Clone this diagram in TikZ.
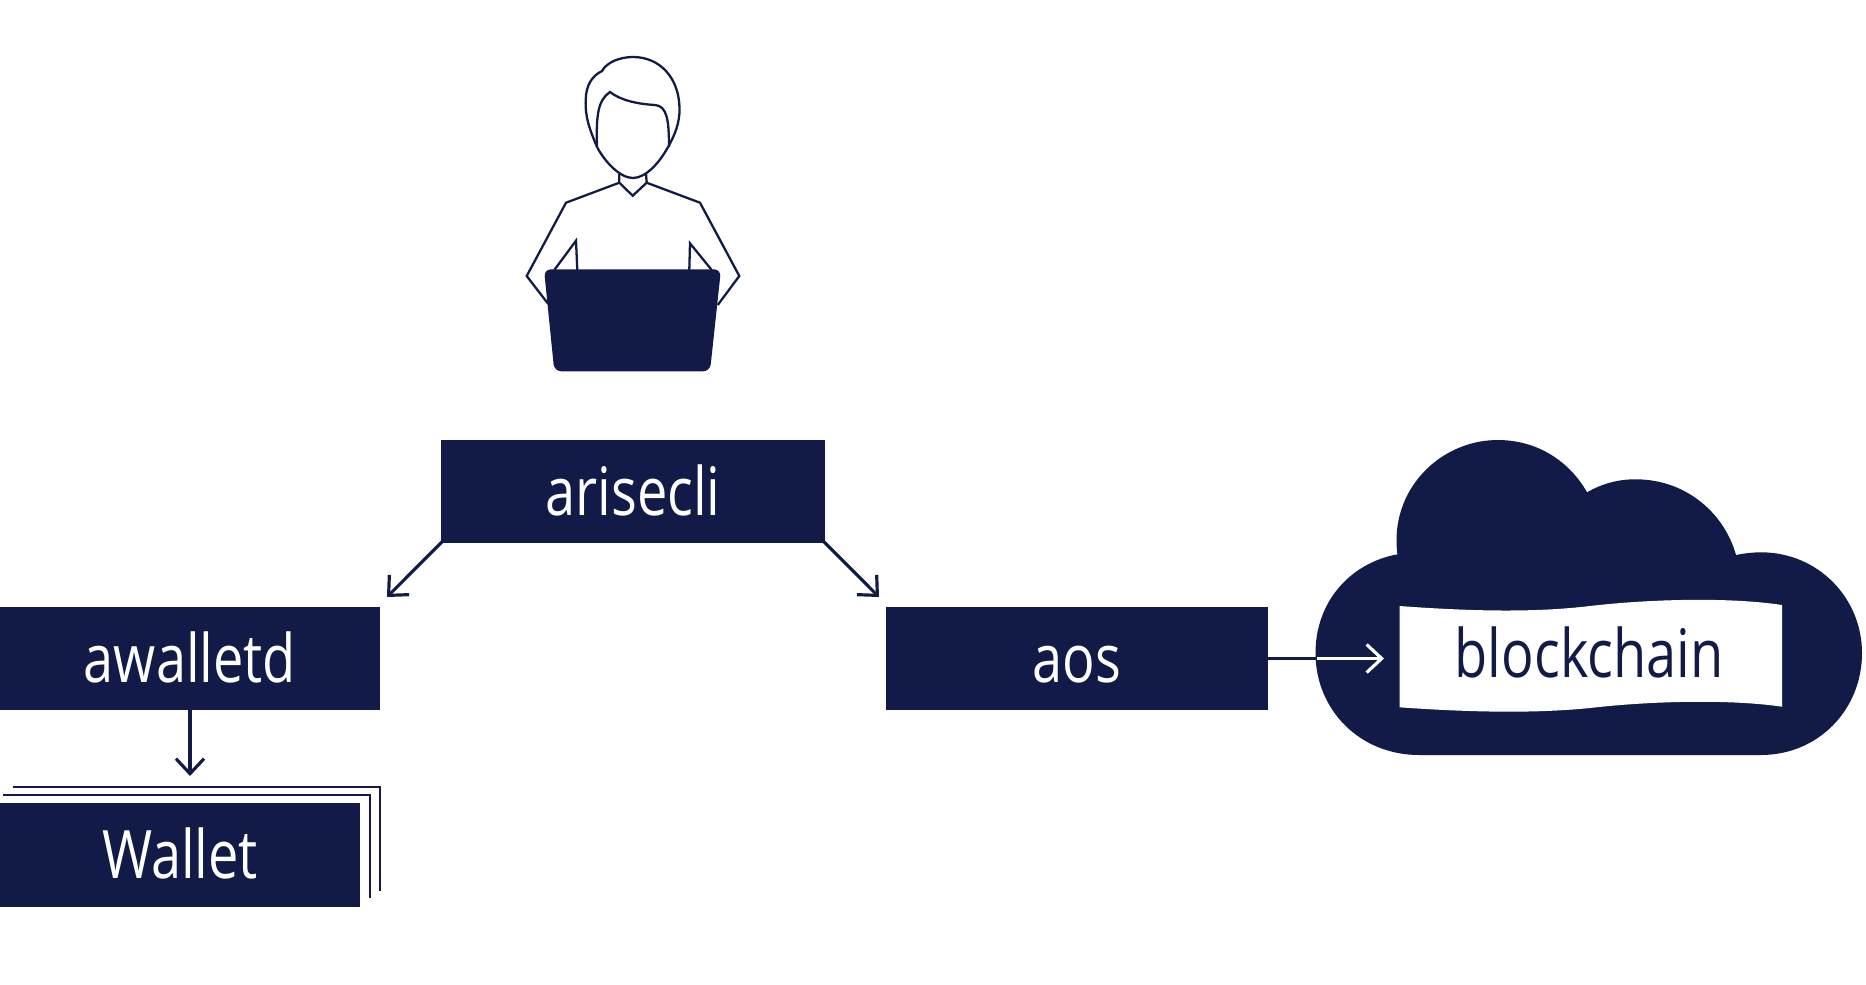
\documentclass[tikz,border=0pt]{standalone}
\usepackage{fontspec}
\setmainfont[FakeStretch=0.81]{Open Sans}
\definecolor{DeepNavy}{HTML}{121B47}
\usetikzlibrary{arrows.meta, positioning}
\tikzset{
  % Box styles
  toolbox/.style={rectangle, draw=none, fill=DeepNavy, text=white, inner sep=0pt, minimum width=3.82cm, minimum height=1.03cm, font=\fontsize{19}{23}\selectfont, text height=0.47cm, text depth=0pt, align=center},
  % Arrow styles
  arrow/.style={-{Straight Barb[length=1.5mm, width=2.8mm]}, line width=0.9pt, DeepNavy, shorten <=-1pt},
  whitearrow/.style={-{Straight Barb[length=1.5mm, width=2.8mm]}, line width=0.9pt, white},
  % Line styles
  outline/.style={line width=0.65pt, DeepNavy, line join=miter},
  stackline/.style={line width=0.65pt, DeepNavy}
}
\begin{document}
\begin{tikzpicture}[x=0.01cm, y=-0.01cm]
  \useasboundingbox (0,0) rectangle (1866,984);

  % Person
  \draw[outline] (597,147) .. controls (590,130) and (585,118) .. (585.7,100) .. controls (586,85) and (592,76) .. (602,71)
    .. controls (607,62) and (620,57) .. (633,57) .. controls (660,57) and (679,78) .. (679.5,108) .. controls (680,122) and (675,135) .. (668,147);
  \draw[outline] (597,147) .. controls (605,162) and (620,178) .. (633,178) .. controls (646,178) and (660,162) .. (668,147);
  \draw[outline] (597,147) .. controls (596,115) and (598,100) .. (610,92) .. controls (620,100) and (637,104) .. (655,105) .. controls (667,106) and (669,120) .. (669,147);
  \draw[outline] (619.3,174) -- (619.3,182.7) -- (632.7,195.7) -- (646.7,182.7) -- (646,174);
  \draw[outline] (548.3,304) -- (526.7,276) -- (566,202.7) -- (619.3,182.7);
  \draw[outline] (717.7,305) -- (739.3,276) -- (700,202.7) -- (646.7,182.7);
  \draw[outline] (554.3,270) -- (576,240.7) -- (577.3,270);
  \draw[outline] (689.3,270) -- (690,243.3) -- (711.7,270);
  % Laptop
  \fill[DeepNavy, rounded corners=0.07cm] (544,269.3) -- (721,269.3) -- (710,371.3) -- (554.3,371.3) -- cycle;

  % Cloud
  \fill[DeepNavy] (1397.4,554.3) .. controls (1389,490) and (1440,440) .. (1497.8,440) .. controls (1538,440) and (1570,462) .. (1587,492.3)
    .. controls (1603,483) and (1620,479) .. (1637,479.3) .. controls (1688,480) and (1725,515) .. (1736,555)
    .. controls (1746,553) and (1754,552.3) .. (1761,552.3) .. controls (1818,552.3) and (1862,598) .. (1862,653)
    .. controls (1862,710) and (1818,755) .. (1761,755) -- (1419,755)
    .. controls (1360,755) and (1315.5,710) .. (1315.5,653) .. controls (1315.5,602) and (1350,563) .. (1397.4,554.3) -- cycle;
  \fill[white] (1399.5,606) .. controls (1480,612) and (1540,612) .. (1590,606) .. controls (1650,599) and (1730,597) .. (1782,605)
    -- (1782,706.7) .. controls (1730,699) and (1650,701) .. (1590,708) .. controls (1540,713) and (1480,713) .. (1399.5,707.3) -- cycle;
  \node[toolbox, fill=none, text=DeepNavy] (chain) at (1589,654) {blockchain};

  % Tool boxes
  \node[toolbox, minimum width=3.84cm] (cli) at (633,491.5) {arisecli};
  \node[toolbox, minimum width=3.8cm] (wallettool) at (190,658.5) {awalletd};
  \node[toolbox, right=5.04cm of wallettool] (aos) {aos};

  % Stacked wallets
  \draw[stackline] (13,786.7) -- (380,786.7) -- (380,890.7);
  \draw[stackline] (3,795) -- (370,795) -- (370,898);
  \node[toolbox, minimum width=3.6cm] (walletfile) at (180,855) {Wallet};

  % Connectors
  \coordinate (lefttip) at (387,597);
  \coordinate (righttip) at (879,597);
  \coordinate (downtip) at (190,776);
  \coordinate (cloudedge) at (1316.5,658.5);
  \coordinate (cloudtip) at (1384,658.5);
  \draw[arrow] (cli.south west) -- (lefttip);
  \draw[arrow] (cli.south east) -- (righttip);
  \draw[arrow] (wallettool.south) -- (downtip);
  \draw[DeepNavy, line width=0.9pt, shorten <=-1pt] (aos.east) -- (cloudedge);
  \draw[whitearrow] (cloudedge) -- (cloudtip);
\end{tikzpicture}
\end{document}
